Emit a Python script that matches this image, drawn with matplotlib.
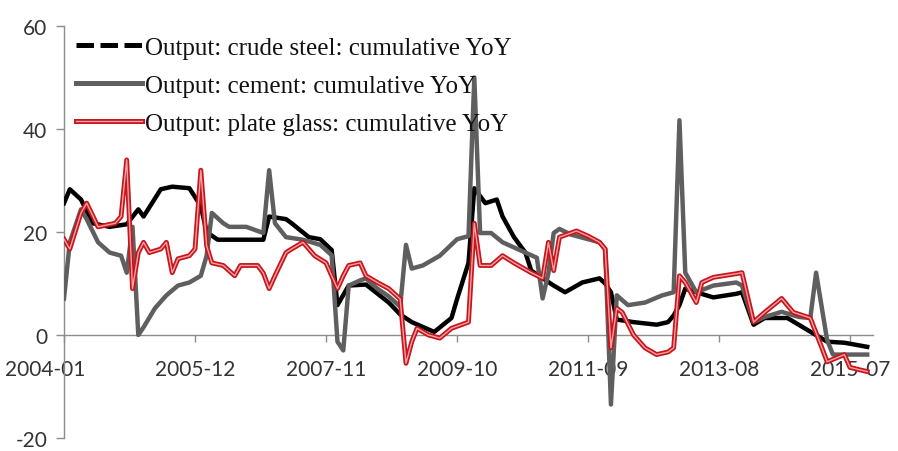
import matplotlib
matplotlib.use("Agg")
import matplotlib.pyplot as plt
import matplotlib.patheffects as pe
import matplotlib.transforms as mtransforms
from matplotlib.lines import Line2D
import pandas as pd

plt.rcParams["axes.unicode_minus"] = False

# ---------------- data ----------------
steel_months = ["2004-01", "2004-02", "2004-04", "2004-06", "2004-09", "2004-12", "2005-02", "2005-03",
                "2005-06", "2005-08", "2005-11", "2006-01", "2006-02", "2006-04", "2006-12", "2007-01",
                "2007-04", "2007-05", "2007-08", "2007-10", "2007-12", "2008-01", "2008-03", "2008-06",
                "2008-10", "2008-12", "2009-02", "2009-06", "2009-09", "2009-10", "2009-12", "2010-01",
                "2010-03", "2010-05", "2010-06", "2010-08", "2010-10", "2010-11", "2011-03", "2011-05",
                "2011-08", "2011-11", "2011-12", "2012-01", "2012-02", "2012-05", "2012-09", "2012-11",
                "2012-12", "2013-01", "2013-02", "2013-04", "2013-07", "2013-11", "2013-12", "2014-02",
                "2014-04", "2014-08", "2014-11", "2015-03", "2015-06", "2015-10"]
steel_values = [25.6, 28.3, 26.3, 21.7, 21.0, 21.5, 24.4, 23.0,
                28.3, 28.8, 28.5, 25.0, 20.0, 18.5, 18.5, 23.0,
                22.5, 21.7, 19.0, 18.6, 16.5, 5.8, 9.6, 9.8,
                6.3, 4.0, 2.5, 0.6, 3.3, 7.0, 14.0, 28.5,
                25.6, 26.3, 23.0, 19.0, 16.0, 12.5, 9.6, 8.3,
                10.2, 11.0, 10.0, 8.3, 3.0, 2.5, 2.0, 2.5,
                3.8, 5.8, 9.0, 8.3, 7.3, 8.0, 8.3, 2.0,
                3.3, 3.3, 1.3, -1.3, -1.5, -2.3]

cement_months = ["2004-01", "2004-02", "2004-04", "2004-05", "2004-07", "2004-09", "2004-11", "2004-12",
                 "2005-01", "2005-02", "2005-03", "2005-05", "2005-07", "2005-09", "2005-11", "2006-01",
                 "2006-02", "2006-03", "2006-05", "2006-06", "2006-09", "2006-12", "2007-01", "2007-02",
                 "2007-04", "2007-07", "2007-10", "2007-12", "2008-01", "2008-02", "2008-03", "2008-05",
                 "2008-06", "2008-08", "2008-10", "2008-12", "2009-01", "2009-02", "2009-04", "2009-07",
                 "2009-10", "2009-12", "2010-01", "2010-02", "2010-04", "2010-06", "2010-10", "2010-12",
                 "2011-01", "2011-02", "2011-03", "2011-04", "2011-06", "2011-09", "2011-11", "2011-12",
                 "2012-01", "2012-02", "2012-04", "2012-07", "2012-10", "2012-12", "2013-01", "2013-02",
                 "2013-04", "2013-07", "2013-11", "2013-12", "2014-02", "2014-04", "2014-07", "2014-10",
                 "2014-12", "2015-01", "2015-03", "2015-04", "2015-10"]
cement_values = [7.1, 18.0, 24.4, 22.5, 18.0, 16.0, 15.4, 12.1,
                 21.0, 0.0, 1.5, 5.2, 7.7, 9.6, 10.2, 11.5,
                 15.4, 23.7, 21.7, 21.0, 21.0, 19.8, 32.0, 21.7,
                 19.0, 18.5, 17.5, 15.5, -1.3, -3.0, 9.6, 10.6,
                 11.0, 9.0, 7.5, 5.5, 17.5, 12.9, 13.5, 15.4,
                 18.6, 19.2, 50.0, 19.8, 19.8, 18.0, 16.0, 15.0,
                 7.1, 12.0, 19.8, 20.6, 19.5, 18.6, 18.0, 16.7,
                 -13.5, 7.7, 5.8, 6.3, 7.7, 8.3, 41.7, 12.1,
                 8.3, 9.6, 10.2, 9.6, 2.5, 3.5, 4.5, 3.5,
                 3.3, 12.1, -1.0, -3.8, -3.8]

glass_months = ["2004-01", "2004-02", "2004-04", "2004-05", "2004-07", "2004-10", "2004-11", "2004-12",
                "2005-01", "2005-02", "2005-03", "2005-04", "2005-06", "2005-07", "2005-08", "2005-09",
                "2005-11", "2005-12", "2006-01", "2006-02", "2006-03", "2006-05", "2006-07", "2006-08",
                "2006-11", "2006-12", "2007-01", "2007-02", "2007-04", "2007-05", "2007-07", "2007-08",
                "2007-09", "2007-11", "2007-12", "2008-01", "2008-02", "2008-03", "2008-05", "2008-06",
                "2008-08", "2008-10", "2008-12", "2009-01", "2009-02", "2009-03", "2009-05", "2009-07",
                "2009-09", "2009-12", "2010-01", "2010-02", "2010-04", "2010-06", "2010-08", "2010-11",
                "2011-01", "2011-02", "2011-03", "2011-04", "2011-06", "2011-07", "2011-09", "2011-11",
                "2011-12", "2012-01", "2012-02", "2012-03", "2012-05", "2012-07", "2012-09", "2012-11",
                "2012-12", "2013-01", "2013-02", "2013-04", "2013-05", "2013-07", "2013-11", "2013-12",
                "2014-02", "2014-04", "2014-07", "2014-09", "2014-12", "2015-02", "2015-03", "2015-06",
                "2015-07", "2015-10"]
glass_values = [18.6, 16.7, 23.7, 25.6, 21.0, 21.7, 23.0, 34.0,
                9.0, 16.0, 18.0, 16.0, 16.7, 18.0, 12.1, 14.8,
                15.4, 16.7, 32.0, 17.3, 14.0, 13.5, 11.5, 13.5,
                13.5, 12.0, 9.0, 11.5, 16.0, 16.7, 18.0, 16.7,
                15.4, 14.0, 11.5, 9.0, 11.5, 13.5, 14.0, 11.5,
                10.2, 9.0, 7.0, -5.5, -1.3, 1.3, 0.0, -0.6,
                1.3, 2.5, 21.7, 13.5, 13.5, 15.4, 14.0, 12.1,
                11.0, 18.0, 12.5, 19.0, 19.8, 20.2, 19.2, 18.0,
                16.7, -2.5, 5.2, 4.4, 0.0, -2.5, -3.8, -3.3,
                -2.5, 11.5, 10.2, 6.3, 10.2, 11.2, 11.9, 12.1,
                2.5, 4.4, 7.1, 4.4, 3.3, -2.5, -5.2, -3.8,
                -6.3, -7.1]

x_tick_labels = ["2004-01", "2005-12", "2007-11", "2009-10", "2011-09", "2013-08", "2015-07"]
y_ticks = [-20, 0, 20, 40, 60]
series_names = ["Output: crude steel: cumulative YoY",
                "Output: cement: cumulative YoY",
                "Output: plate glass: cumulative YoY"]


def to_dates(months):
    return pd.to_datetime(months, format="%Y-%m")


# ---------------- figure ----------------
W, H = 898, 452
fig = plt.figure(figsize=(W / 100, H / 100), dpi=100)
ax = fig.add_axes([64 / W, 13 / H, (873 - 64) / W, (439 - 27) / H])

black = "#000000"
grey = "#5f5f5f"
red = "#c8141c"
pink = "#f3a3a3"

ax.plot(to_dates(steel_months), steel_values, color=black, lw=3.2, solid_joinstyle="round", zorder=3)
ax.plot(to_dates(cement_months), cement_values, color=grey, lw=3.2, solid_joinstyle="round", zorder=4)
ax.plot(to_dates(glass_months), glass_values, color=pink, lw=1.0, zorder=5,
        path_effects=[pe.Stroke(linewidth=3.5, foreground=red), pe.Normal()])

ax.set_ylim(-20, 60)
ax.set_xlim(pd.Timestamp("2004-01-01"), pd.Timestamp("2015-11-01"))

ax.set_yticks(y_ticks)
ax.set_yticklabels([str(v) for v in y_ticks])
ax.set_xticks(to_dates(x_tick_labels))
ax.set_xticklabels(x_tick_labels)

axis_col = "#8c8c8c"
for s in ["top", "right"]:
    ax.spines[s].set_visible(False)
ax.spines["bottom"].set_position(("data", 0))
ax.spines["bottom"].set_color(axis_col)
ax.spines["left"].set_color(axis_col)
ax.spines["bottom"].set_linewidth(1.0)
ax.spines["left"].set_linewidth(1.0)
ax.spines["bottom"].set_zorder(1)

ax.tick_params(axis="y", direction="out", length=6, width=1, color=axis_col, pad=6,
               labelsize=15, labelcolor="#333333")
ax.tick_params(axis="x", direction="out", length=5, width=1, color=axis_col, pad=12,
               labelsize=15, labelcolor="#333333")
for lab in ax.get_xticklabels() + ax.get_yticklabels():
    lab.set_fontfamily(["Lato", "DejaVu Sans"])

# first date label sits further left in the reference
first = ax.get_xticklabels()[0]
first.set_transform(first.get_transform() + mtransforms.ScaledTranslation(-19 / 100, 0, fig.dpi_scale_trans))

handles = [
    Line2D([], [], color=black, lw=3.6, linestyle=(0, (3.5, 1.3))),
    Line2D([], [], color=grey, lw=3.6),
    Line2D([], [], color=pink, lw=1.0,
           path_effects=[pe.Stroke(linewidth=3.6, foreground=red), pe.Normal()]),
]
leg = fig.legend(handles, series_names, loc="upper left",
                 bbox_to_anchor=(76 / W, 1 - 37 / H), bbox_transform=fig.transFigure,
                 frameon=False, borderpad=0, borderaxespad=0, handlelength=2.65,
                 handletextpad=0.1, labelspacing=0.62,
                 prop={"family": ["Liberation Serif", "DejaVu Serif"], "size": 18})
for t in leg.get_texts():
    t.set_color("#111111")

fig.savefig("out.png", dpi=100)
